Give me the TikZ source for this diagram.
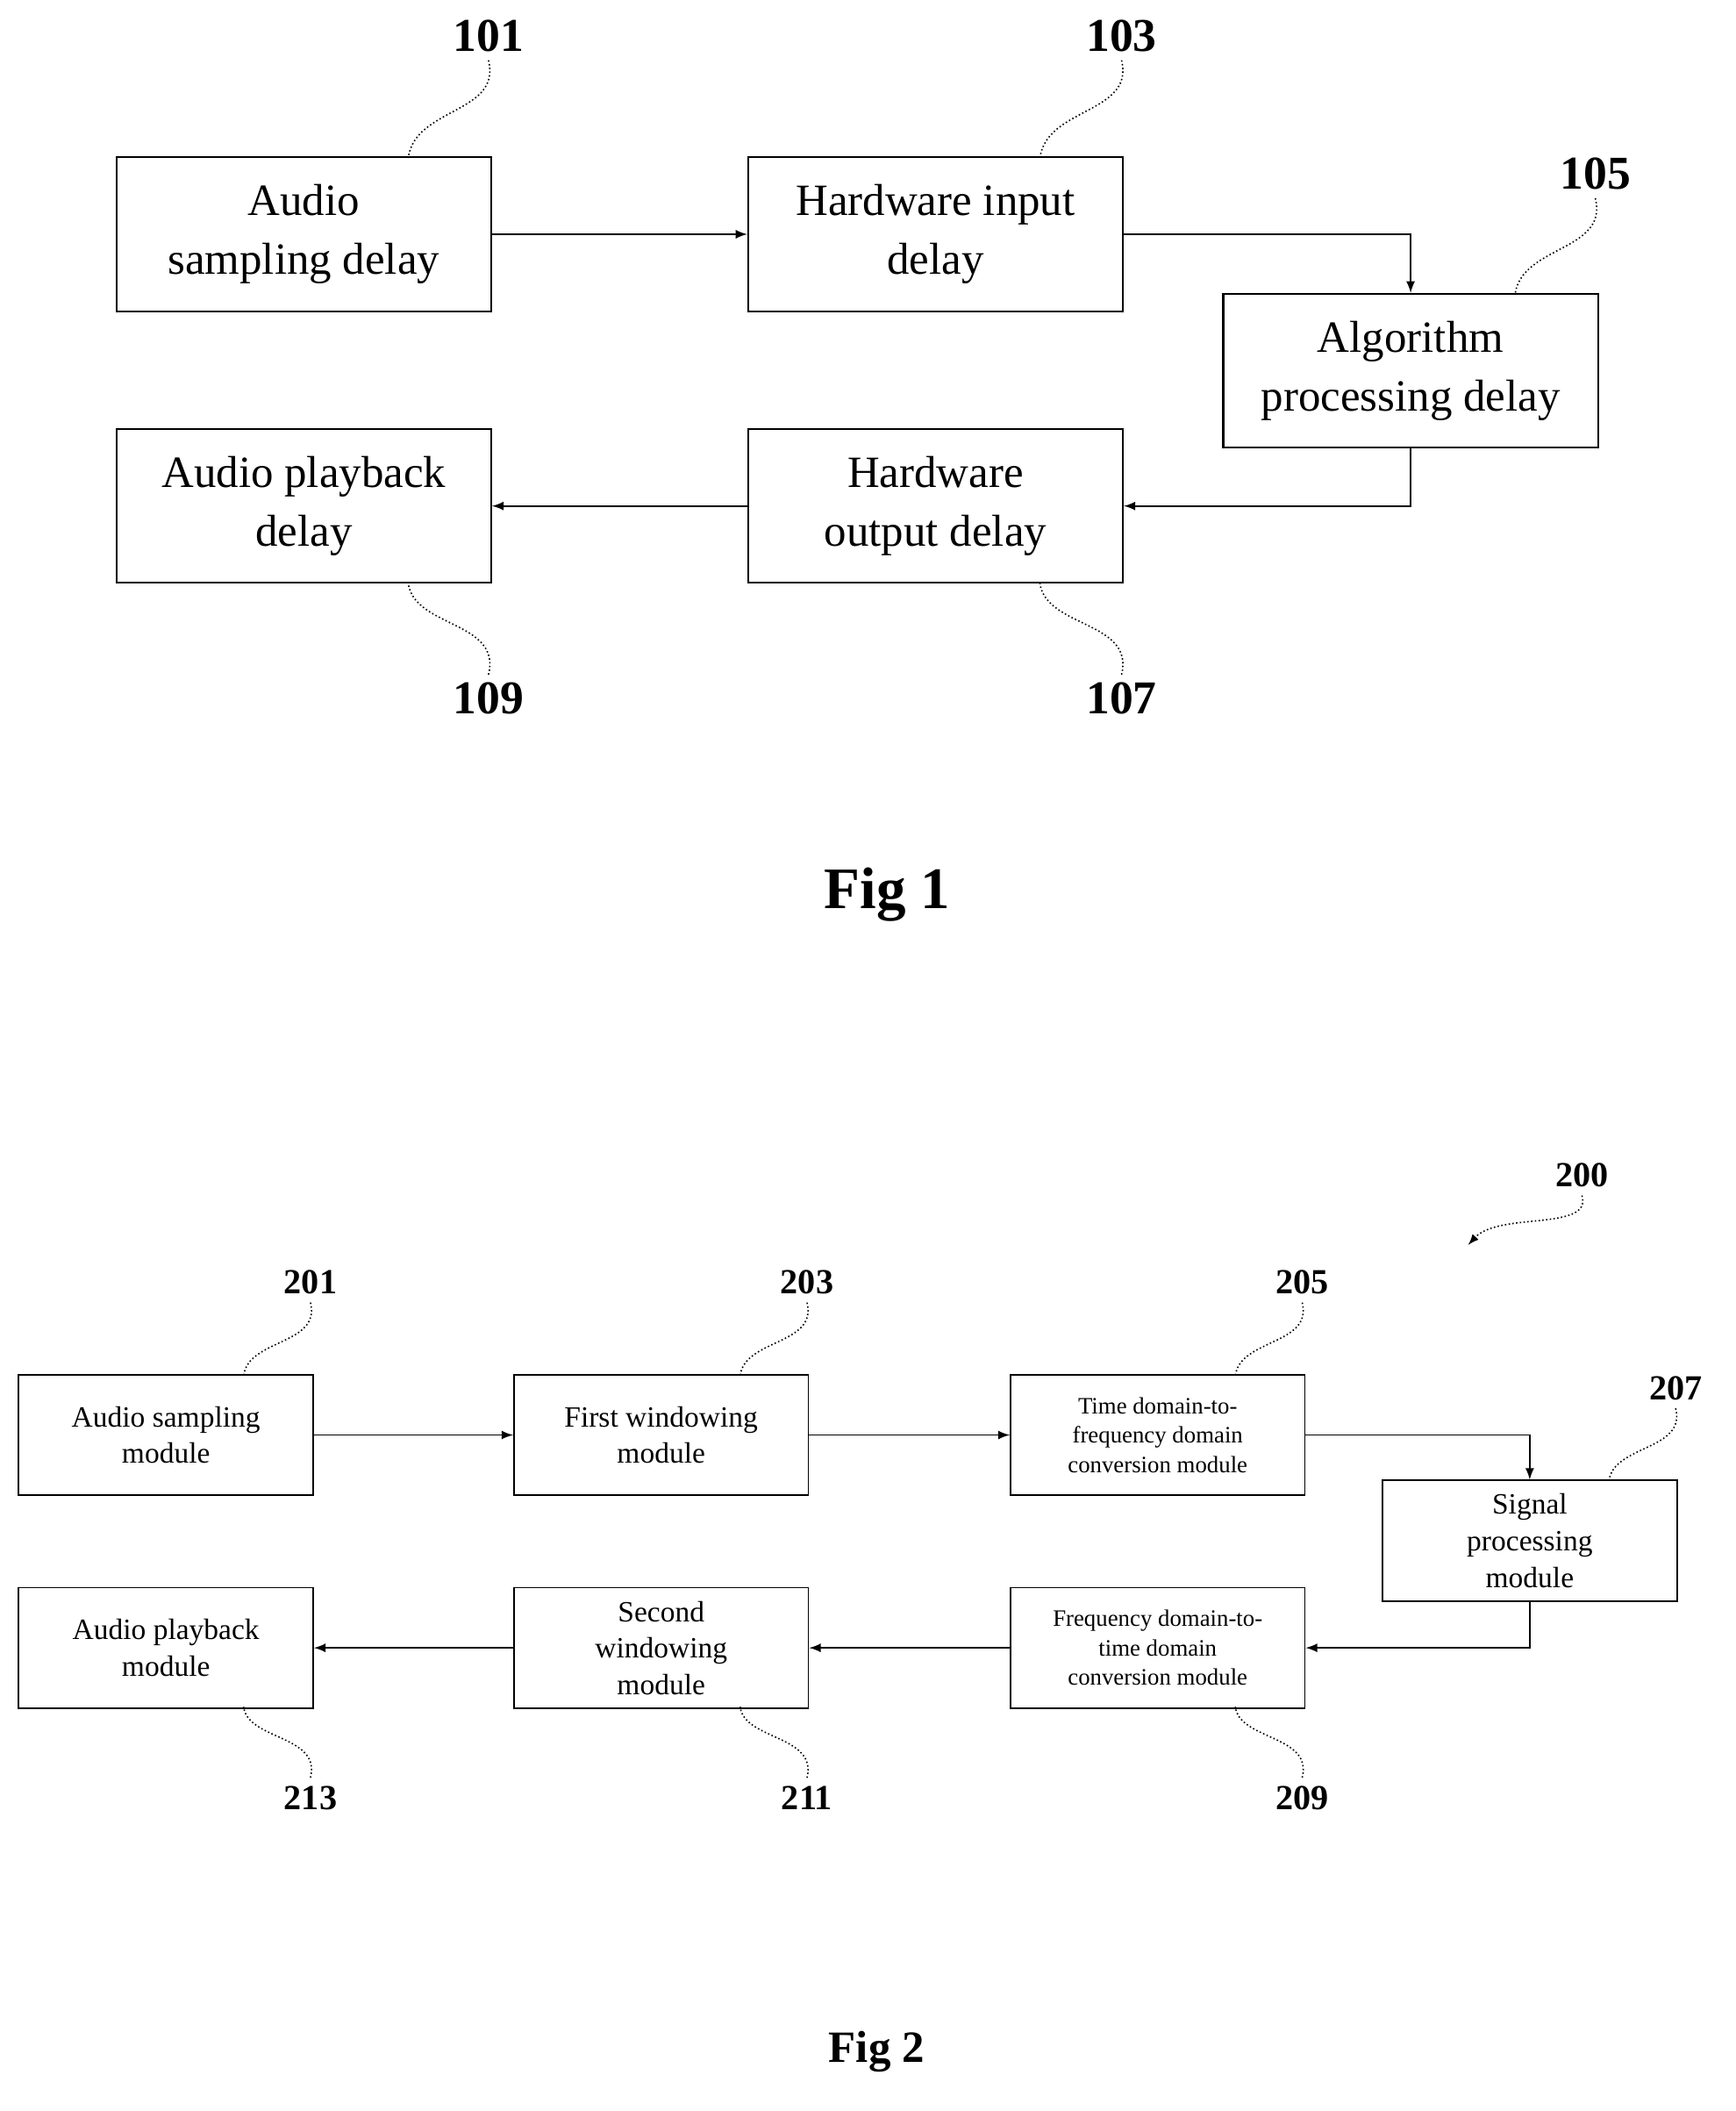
\documentclass[tikz,border=0pt]{standalone}
\usepackage{fontspec}
\setmainfont{Liberation Serif}
\usetikzlibrary{arrows,positioning}
\tikzset{
  bigbox/.style={draw, line width=0.8pt, minimum width=5.6cm, minimum height=2.3cm,
    align=center, font=\fontsize{19}{25}\selectfont, inner sep=0cm},
  smallbox/.style={draw, line width=0.7pt, minimum width=4.4cm, minimum height=1.8cm,
    align=center, font=\fontsize{12.5}{15.5}\selectfont, inner sep=0cm},
  tinytext/.style={font=\fontsize{10}{12.5}\selectfont},
  flow/.style={-latex, line width=0.7pt},
  lead/.style={line width=0.6pt, densely dotted},
  bignum/.style={font=\fontsize{20}{24}\selectfont\bfseries},
  smallnum/.style={font=\fontsize{15}{18}\selectfont\bfseries}
}
\begin{document}
\begin{tikzpicture}[x=0.02cm, y=-0.02cm]
\useasboundingbox (0,0) rectangle (1297,1577);

% Fig 1
\node[bigbox] (sampdelay) at (227,175) {Audio\\sampling delay};
\node[bigbox] (hwin) at (699,175) {Hardware input\\delay};
\node[bigbox] (algo) at (1054,277) {Algorithm\\processing delay};
\node[bigbox] (hwout) at (699,378) {Hardware\\output delay};
\node[bigbox] (playdelay) at (227,378) {Audio playback\\delay};

\draw[flow] (sampdelay) -- (hwin);
\draw[flow] (hwin.east) -| (algo.north);
\draw[flow] (algo.south) |- (hwout.east);
\draw[flow] (hwout) -- (playdelay);

\node[bignum] (n101) at (365,27) {101};
\node[bignum] (n103) at (838,27) {103};
\node[bignum] (n105) at (1192,130) {105};
\node[bignum] (n107) at (838,522) {107};
\node[bignum] (n109) at (365,522) {109};
\draw[lead] (n101.south) .. controls (375,85) and (310,80) .. (305,118);
\draw[lead] (n103.south) .. controls (848,85) and (782,80) .. (777,118);
\draw[lead] (n105.south) .. controls (1202,188) and (1137,183) .. (1132,220);
\draw[lead] (n107.north) .. controls (848,464) and (782,469) .. (777,436);
\draw[lead] (n109.north) .. controls (375,464) and (310,469) .. (305,436);

\node[font=\fontsize{25}{30}\selectfont\bfseries] (fig1) at (663,668) {Fig 1};

% Fig 2
\node[smallbox] (sampmod) at (124,1072) {Audio sampling\\module};
\node[smallbox] (win1) at (494,1072) {First windowing\\module};
\node[smallbox, tinytext] (t2f) at (865,1072) {Time domain-to-\\frequency domain\\conversion module};
\node[smallbox] (sigproc) at (1143,1151) {Signal\\processing\\module};
\node[smallbox, tinytext] (f2t) at (865,1231) {Frequency domain-to-\\time domain\\conversion module};
\node[smallbox] (win2) at (494,1231) {Second\\windowing\\module};
\node[smallbox] (playmod) at (124,1231) {Audio playback\\module};

\draw[flow] (sampmod) -- (win1);
\draw[flow] (win1) -- (t2f);
\draw[flow] (t2f.east) -| (sigproc.north);
\draw[flow] (sigproc.south) |- (f2t.east);
\draw[flow] (f2t) -- (win2);
\draw[flow] (win2) -- (playmod);

\node[smallnum] (n200) at (1182,878) {200};
\node[smallnum] (n201) at (232,958) {201};
\node[smallnum] (n203) at (603,958) {203};
\node[smallnum] (n205) at (973,958) {205};
\node[smallnum] (n207) at (1252,1037) {207};
\node[smallnum] (n209) at (973,1343) {209};
\node[smallnum] (n211) at (603,1343) {211};
\node[smallnum] (n213) at (232,1343) {213};
\coordinate (c200) at (1097,930);
\draw[lead, -latex] (n200.south) .. controls (1190,920) and (1120,905) .. (c200);
\draw[lead] (n201.south) .. controls (240,1005) and (185,1000) .. (182,1028);
\draw[lead] (n203.south) .. controls (611,1005) and (556,1000) .. (553,1028);
\draw[lead] (n205.south) .. controls (981,1005) and (926,1000) .. (923,1028);
\draw[lead] (n207.south) .. controls (1260,1084) and (1205,1079) .. (1202,1107);
\draw[lead] (n209.north) .. controls (981,1296) and (926,1300) .. (923,1275);
\draw[lead] (n211.north) .. controls (611,1296) and (556,1300) .. (553,1275);
\draw[lead] (n213.north) .. controls (240,1296) and (185,1300) .. (182,1275);

\node[font=\fontsize{19}{23}\selectfont\bfseries] (fig2) at (655,1533) {Fig 2};
\end{tikzpicture}
\end{document}
